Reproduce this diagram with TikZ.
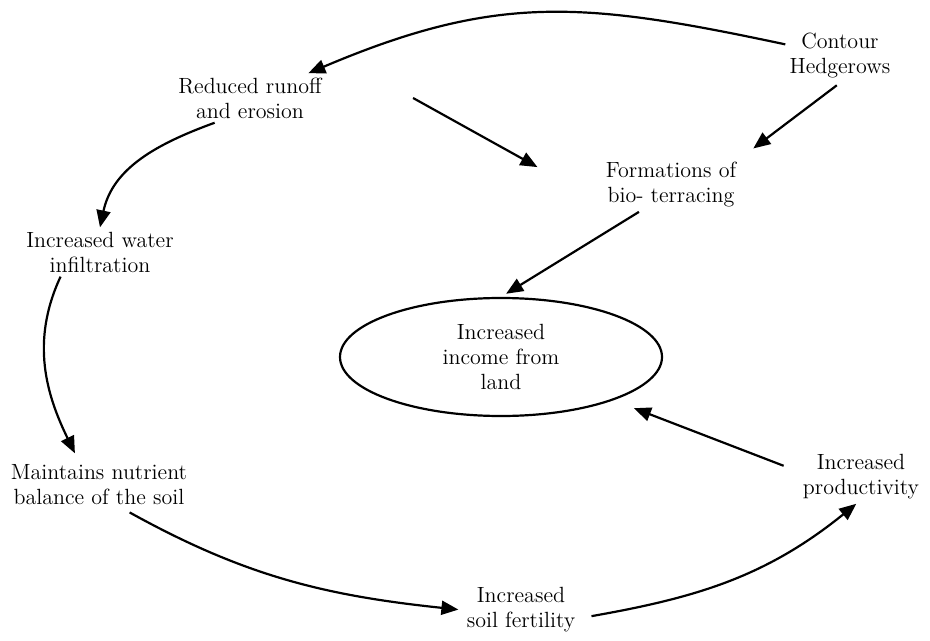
\documentclass[tikz,border=0pt]{standalone}
\usepackage{tikz}
\usetikzlibrary{calc}
\usetikzlibrary{arrows.meta}
\usetikzlibrary{shapes.geometric}

\begin{document}
\begin{tikzpicture}[x=0.5pt, y=0.5pt,
    lbl/.style={align=center, inner sep=2pt, font={\fontsize{11}{12.5}\selectfont}},
    arr/.style={-{Triangle[length=8.5pt, width=7pt]}, line width=1.1pt}]
            \useasboundingbox (0, 0) rectangle (930, -641);
            \node[lbl] (ch) at (840, -56) {Contour\\Hedgerows};
            \node[lbl] (rr) at (250, -98) {Reduced runoff\\and erosion};
            \node[lbl] (fb) at (671, -185) {Formations of\\bio- terracing};
            \node[lbl] (iw) at (100, -252) {Increased water\\infiltration};
            \node[lbl, ellipse, draw, line width=1.1pt, minimum width=161pt, minimum height=59pt, inner sep=0pt] (inc) at (501, -357) {Increased\\income from\\land};
            \node[lbl] (mn) at (99, -485) {Maintains nutrient\\balance of the soil};
            \node[lbl] (pr) at (861, -477) {Increased\\productivity};
            \node[lbl] (sf) at (521, -610) {Increased\\soil fertility};

            \draw[arr] (ch.168) to[out=168, in=23, looseness=1.1] (rr.23);
            \draw[arr] (rr.-145) to[out=200, in=78] (iw.north);
            \draw[arr, shorten >=4pt] (iw.-148) to[out=245, in=116] (mn.130);
            \draw[arr, shorten <=3pt, shorten >=2pt] (mn.-44) to[out=-29, in=174] (sf.west);
            \draw[arr, shorten <=6pt] (sf.-8) to[out=10, in=219] (pr.-100);
            \draw[arr, shorten <=8pt, shorten >=11pt] (pr.175) -- (inc);
            \draw[arr, shorten >=3pt] (fb.-140) -- (inc.north);
            \draw[arr] ($(rr.east) + (87, 0)$) -- ($(fb.north west) + (-64, -9)$);
            \draw[arr, shorten <=2pt, shorten >=8pt] (ch.south) -- (fb.north east);
        \end{tikzpicture}
\end{document}
